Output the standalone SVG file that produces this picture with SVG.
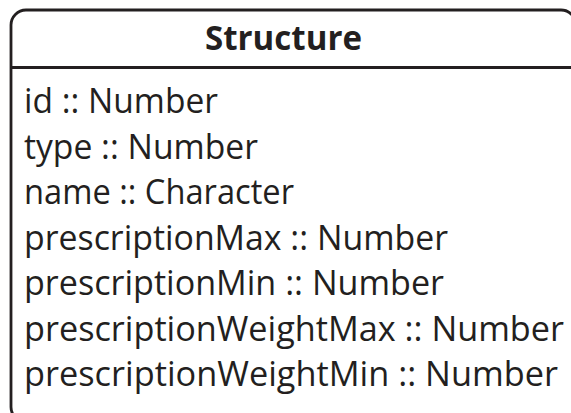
<svg xmlns="http://www.w3.org/2000/svg" width="571" height="413" viewBox="0 0 571 413">
<style>
.box{fill:#ffffff;stroke:#231f20;stroke-width:2.8}
.div{stroke:#231f20;stroke-width:2.8}
.t{font-family:"Open Sans","Noto Sans","Liberation Sans",sans-serif;font-size:34px;fill:#231f20}
.h{font-family:"Open Sans","Noto Sans","Liberation Sans",sans-serif;font-size:34px;font-weight:bold;fill:#231f20}
</style>
<rect width="571" height="413" fill="#ffffff"/>
<g id="structure">
<rect class="box" x="11" y="10" width="565" height="412" rx="15" ry="15"/>
<line class="div" x1="11" y1="67.5" x2="576" y2="67.5"/>
<text class="h" x="205" y="50" textLength="157" lengthAdjust="spacingAndGlyphs">Structure</text>
<text class="t" x="24" y="113" textLength="194" lengthAdjust="spacingAndGlyphs">id :: Number</text>
<text class="t" x="24" y="158.5" textLength="234" lengthAdjust="spacingAndGlyphs">type :: Number</text>
<text class="t" x="24" y="204" textLength="270" lengthAdjust="spacingAndGlyphs">name :: Character</text>
<text class="t" x="24" y="249.5" textLength="424" lengthAdjust="spacingAndGlyphs">prescriptionMax :: Number</text>
<text class="t" x="24" y="295" textLength="420" lengthAdjust="spacingAndGlyphs">prescriptionMin :: Number</text>
<text class="t" x="24" y="340.5" textLength="540" lengthAdjust="spacingAndGlyphs">prescriptionWeightMax :: Number</text>
<text class="t" x="24" y="386" textLength="534" lengthAdjust="spacingAndGlyphs">prescriptionWeightMin :: Number</text>
</g>
</svg>
